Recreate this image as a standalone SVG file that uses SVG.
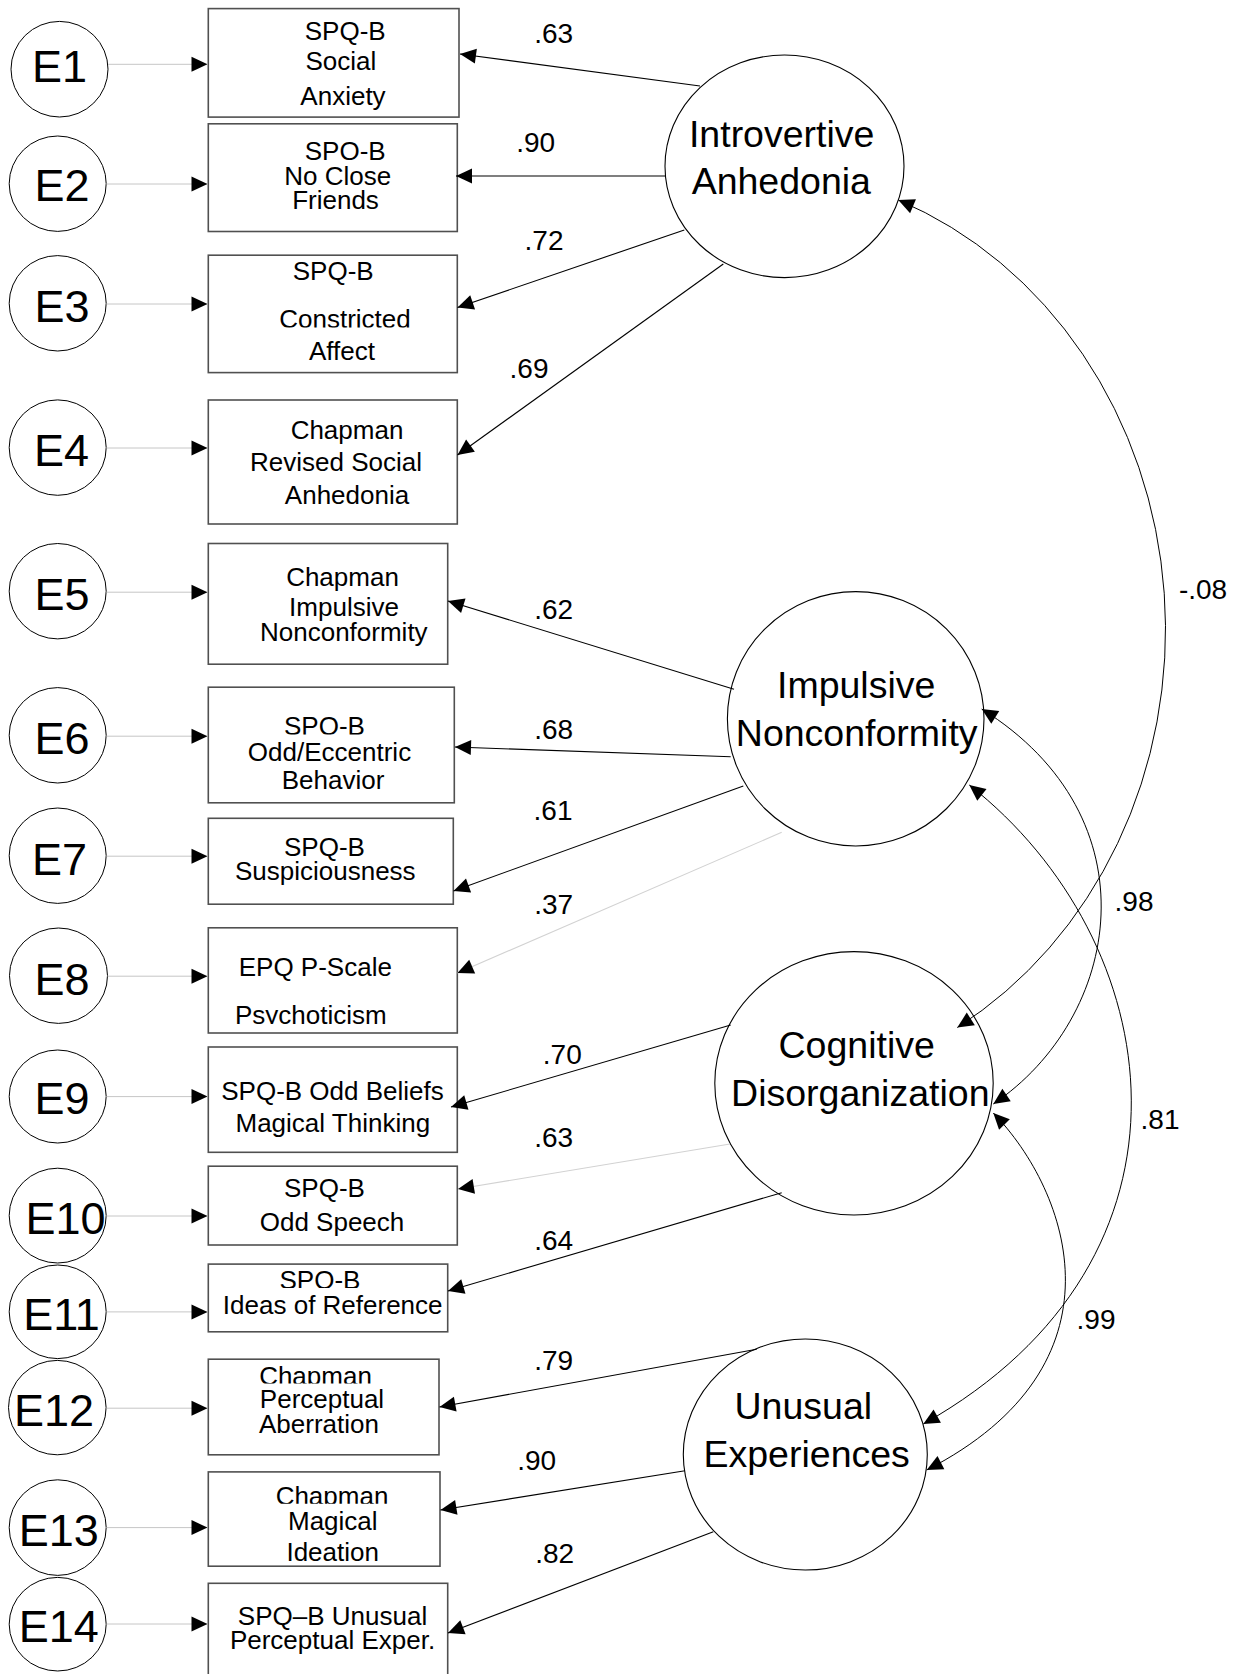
<svg xmlns="http://www.w3.org/2000/svg" width="1248" height="1674" viewBox="0 0 1248 1674">
  <defs>
    <style>
      text { font-family: "Liberation Sans", Arial, sans-serif; fill: #000; text-anchor: middle; }
      .err ellipse { fill: #fff; stroke: #000; stroke-width: 1; }
      .err text { font-size: 45px; }
      .box rect { fill: #fff; stroke: #505050; stroke-width: 1.6; }
      .box text { font-size: 26px; }
      .lat ellipse { fill: #fff; stroke: #000; stroke-width: 1.1; }
      .lat text { font-size: 37.5px; }
      .eline { stroke: #c6c6c6; stroke-width: 1; fill: none; marker-end: url(#ah); }
      .load { stroke: #000; stroke-width: 1.1; fill: none; marker-end: url(#ah); }
      .load.faint { stroke: #d2d2d2; }
      .cov { stroke: #000; stroke-width: 1; fill: none; marker-start: url(#ah); marker-end: url(#ah); }
      .lbl { font-size: 28px; }
    </style>
    <marker id="ah" markerUnits="userSpaceOnUse" markerWidth="17" markerHeight="16" refX="16" refY="7.5" orient="auto-start-reverse" overflow="visible">
      <path d="M0,0 L16,7.5 L0,15 z" fill="#000" stroke="none"/>
    </marker>
    <!-- line clips where a following text line overlaps the one above -->
    <clipPath id="cl-b2"><rect x="200" y="120" width="270" height="40"/></clipPath>
    <clipPath id="cl-b3"><rect x="200" y="290" width="270" height="37.5"/></clipPath>
    <clipPath id="cl-b6"><rect x="200" y="700" width="270" height="34.5"/></clipPath>
    <clipPath id="cl-b8"><rect x="200" y="990" width="270" height="34"/></clipPath>
    <clipPath id="cl-b11"><rect x="200" y="1262" width="270" height="26"/></clipPath>
    <clipPath id="cl-b12"><rect x="200" y="1355" width="270" height="28.5"/></clipPath>
    <clipPath id="cl-b13"><rect x="200" y="1470" width="270" height="33.7"/></clipPath>
  </defs>

  <rect width="1248" height="1674" fill="#fff"/>

  <!-- error terms -->
  <g id="e1" class="err"><ellipse cx="59.5" cy="69.2" rx="48.5" ry="47.8"/><text x="59.5" y="81.5">E1</text></g>
  <g id="e2" class="err"><ellipse cx="57.7" cy="183.7" rx="48.5" ry="47.7"/><text x="62" y="201">E2</text></g>
  <g id="e3" class="err"><ellipse cx="57.7" cy="303.3" rx="48.5" ry="47.7"/><text x="62" y="321.5">E3</text></g>
  <g id="e4" class="err"><ellipse cx="57.7" cy="447.6" rx="48.5" ry="47.7"/><text x="61.5" y="466">E4</text></g>
  <g id="e5" class="err"><ellipse cx="57.7" cy="591.2" rx="48.5" ry="47.7"/><text x="62" y="610">E5</text></g>
  <g id="e6" class="err"><ellipse cx="57.7" cy="735.3" rx="48.5" ry="47.7"/><text x="62" y="754">E6</text></g>
  <g id="e7" class="err"><ellipse cx="57.7" cy="855.7" rx="48.5" ry="47.7"/><text x="59.5" y="875">E7</text></g>
  <g id="e8" class="err"><ellipse cx="58.5" cy="975.7" rx="49" ry="47.7"/><text x="62" y="995">E8</text></g>
  <g id="e9" class="err"><ellipse cx="57.7" cy="1096.5" rx="48.5" ry="46.5"/><text x="62" y="1114">E9</text></g>
  <g id="e10" class="err"><ellipse cx="57.7" cy="1215.6" rx="48.5" ry="47.4"/><text x="65.5" y="1234">E10</text></g>
  <g id="e11" class="err"><ellipse cx="57.7" cy="1311.8" rx="48.5" ry="46.8"/><text x="61.5" y="1330">E11</text></g>
  <g id="e12" class="err"><ellipse cx="57.3" cy="1407.6" rx="48.8" ry="47.2"/><text x="54" y="1426">E12</text></g>
  <g id="e13" class="err"><ellipse cx="57.7" cy="1527.6" rx="48.5" ry="47.8"/><text x="58.8" y="1545.5">E13</text></g>
  <g id="e14" class="err"><ellipse cx="57.7" cy="1624.2" rx="48.5" ry="46.8"/><text x="58.8" y="1642">E14</text></g>

  <!-- observed measures -->
  <g id="spqb-social-anxiety" class="box">
    <rect x="208.3" y="8.6" width="250.7" height="108.5"/>
    <text x="345.2" y="39.6">SPQ-B</text>
    <text x="340.8" y="69.8">Social</text>
    <text x="343" y="104.9">Anxiety</text>
  </g>
  <g id="spqb-no-close-friends" class="box">
    <rect x="208.3" y="123.8" width="249" height="107.7"/>
    <text x="345.2" y="160" clip-path="url(#cl-b2)">SPQ-B</text>
    <text x="337.8" y="184.7">No Close</text>
    <text x="335.5" y="208.8">Friends</text>
  </g>
  <g id="spqb-constricted-affect" class="box">
    <rect x="208.3" y="255.2" width="249" height="117.4"/>
    <text x="333.2" y="280.4">SPQ-B</text>
    <text x="345" y="327.5" clip-path="url(#cl-b3)">Constricted</text>
    <text x="342" y="360.2">Affect</text>
  </g>
  <g id="chapman-social-anhedonia" class="box">
    <rect x="208.3" y="400" width="249" height="124"/>
    <text x="347" y="438.6">Chapman</text>
    <text x="336" y="470.6">Revised Social</text>
    <text x="347" y="504">Anhedonia</text>
  </g>
  <g id="chapman-impulsive-nonconformity" class="box">
    <rect x="208.3" y="543.5" width="239.4" height="120.7"/>
    <text x="342.5" y="585.8">Chapman</text>
    <text x="344" y="616.2">Impulsive</text>
    <text x="343.8" y="640.5">Nonconformity</text>
  </g>
  <g id="spqb-odd-eccentric" class="box">
    <rect x="208.3" y="687.2" width="246" height="115.6"/>
    <text x="324.5" y="735" clip-path="url(#cl-b6)">SPQ-B</text>
    <text x="329.5" y="760.9">Odd/Eccentric</text>
    <text x="333" y="788.6">Behavior</text>
  </g>
  <g id="spqb-suspiciousness" class="box">
    <rect x="208.3" y="818.3" width="245" height="85.9"/>
    <text x="324.5" y="856.2">SPQ-B</text>
    <text x="325.3" y="879.8">Suspiciousness</text>
  </g>
  <g id="epq-psychoticism" class="box">
    <rect x="208.3" y="927.8" width="249" height="105.2"/>
    <text x="315.3" y="976.2">EPQ P-Scale</text>
    <text x="310.8" y="1023.5" clip-path="url(#cl-b8)">Psychoticism</text>
  </g>
  <g id="spqb-odd-beliefs" class="box">
    <rect x="208.3" y="1047" width="249" height="105.3"/>
    <text x="332.5" y="1099.8">SPQ-B Odd Beliefs</text>
    <text x="332.8" y="1132.4">Magical Thinking</text>
  </g>
  <g id="spqb-odd-speech" class="box">
    <rect x="208.3" y="1166.2" width="249" height="78.8"/>
    <text x="324.5" y="1196.5">SPQ-B</text>
    <text x="332" y="1231">Odd Speech</text>
  </g>
  <g id="spqb-ideas-of-reference" class="box">
    <rect x="208.3" y="1264.1" width="239.4" height="67.7"/>
    <text x="320" y="1289" clip-path="url(#cl-b11)">SPQ-B</text>
    <text x="332.7" y="1313.5">Ideas of Reference</text>
  </g>
  <g id="chapman-perceptual-aberration" class="box">
    <rect x="208.3" y="1359.2" width="230.7" height="95.6"/>
    <text x="315.5" y="1385" clip-path="url(#cl-b12)">Chapman</text>
    <text x="322" y="1408.2">Perceptual</text>
    <text x="319" y="1432.9">Aberration</text>
  </g>
  <g id="chapman-magical-ideation" class="box">
    <rect x="208.3" y="1471.9" width="231.7" height="94.3"/>
    <text x="332" y="1505" clip-path="url(#cl-b13)">Chapman</text>
    <text x="332.8" y="1529.6">Magical</text>
    <text x="332.7" y="1560.6">Ideation</text>
  </g>
  <g id="spqb-unusual-perceptual" class="box">
    <rect x="208.3" y="1583.3" width="239.4" height="100"/>
    <text x="332.5" y="1625">SPQ–B Unusual</text>
    <text x="332.5" y="1649">Perceptual Exper.</text>
  </g>

  <!-- latent factors -->
  <g id="introvertive-anhedonia" class="lat">
    <ellipse cx="784.5" cy="166.3" rx="119.5" ry="111.3"/>
    <text x="781.7" y="147.3">Introvertive</text>
    <text x="781.3" y="194.3">Anhedonia</text>
  </g>
  <g id="impulsive-nonconformity" class="lat">
    <ellipse cx="855.7" cy="718.8" rx="128.3" ry="127.2"/>
    <text x="856.2" y="698.3">Impulsive</text>
    <text x="856.7" y="745.7">Nonconformity</text>
  </g>
  <g id="cognitive-disorganization" class="lat">
    <ellipse cx="854" cy="1083.3" rx="139.2" ry="131.7"/>
    <text x="856.7" y="1058.3">Cognitive</text>
    <text x="860.3" y="1106">Disorganization</text>
  </g>
  <g id="unusual-experiences" class="lat">
    <ellipse cx="805.3" cy="1454.5" rx="122" ry="115.5"/>
    <text x="803.3" y="1419.3">Unusual</text>
    <text x="806.7" y="1466.7">Experiences</text>
  </g>

  <!-- paths: error terms, loadings, factor covariances -->
  <g id="connectors">
    <line class="eline" x1="108" y1="64.3" x2="207.5" y2="64.3"/>
    <line class="eline" x1="106.5" y1="184" x2="207.5" y2="184"/>
    <line class="eline" x1="106.5" y1="304" x2="207.5" y2="304"/>
    <line class="eline" x1="106.5" y1="448" x2="207.5" y2="448"/>
    <line class="eline" x1="106.5" y1="592.2" x2="207.5" y2="592.2"/>
    <line class="eline" x1="106.5" y1="736.2" x2="207.5" y2="736.2"/>
    <line class="eline" x1="106.5" y1="856.2" x2="207.5" y2="856.2"/>
    <line class="eline" x1="107.5" y1="976.2" x2="207.5" y2="976.2"/>
    <line class="eline" x1="106.5" y1="1096.6" x2="207.5" y2="1096.6"/>
    <line class="eline" x1="106.5" y1="1216" x2="207.5" y2="1216"/>
    <line class="eline" x1="106.5" y1="1311.9" x2="207.5" y2="1311.9"/>
    <line class="eline" x1="106.5" y1="1408.2" x2="207.5" y2="1408.2"/>
    <line class="eline" x1="106.5" y1="1527.6" x2="207.5" y2="1527.6"/>
    <line class="eline" x1="106.5" y1="1624" x2="207.5" y2="1624"/>

    <line class="load" x1="700" y1="86" x2="460" y2="54"/>
    <line class="load" x1="665" y1="176" x2="456" y2="176"/>
    <line class="load" x1="684.3" y1="230" x2="457.5" y2="307.5"/>
    <line class="load" x1="723.3" y1="264" x2="457.5" y2="455"/>

    <line class="load" x1="734" y1="689.3" x2="448" y2="601"/>
    <line class="load" x1="730.7" y1="756.7" x2="455" y2="747"/>
    <line class="load" x1="743.3" y1="786" x2="453.5" y2="891"/>
    <line class="load faint" x1="781.7" y1="832.3" x2="457.5" y2="973"/>

    <line class="load" x1="730.7" y1="1025" x2="451" y2="1107"/>
    <line class="load faint" x1="730" y1="1144" x2="458" y2="1189"/>
    <line class="load" x1="781.7" y1="1192.7" x2="448" y2="1291"/>

    <line class="load" x1="756.7" y1="1349.3" x2="439.5" y2="1407"/>
    <line class="load" x1="685" y1="1470.7" x2="440.5" y2="1510"/>
    <line class="load" x1="713.3" y1="1531.7" x2="448" y2="1633"/>

    <path class="cov" d="M898.3,200 A417,460 0 0 1 957.3,1027.5"/>
    <path class="cov" d="M981.7,709 C1156.5,818 1121.2,1017.7 993.3,1104"/>
    <path class="cov" d="M969.3,785 C1166.8,940 1219.1,1257.4 923.3,1424"/>
    <path class="cov" d="M993.3,1113 C1070,1192 1131,1365 926.7,1470"/>
  </g>

  <!-- standardized coefficients -->
  <g id="coefficients" class="lbl">
    <text x="553.6" y="43">.63</text>
    <text x="535.7" y="152.4">.90</text>
    <text x="544" y="250">.72</text>
    <text x="529" y="378.4">.69</text>
    <text x="553.6" y="618.9">.62</text>
    <text x="553.6" y="738.7">.68</text>
    <text x="553" y="820.3">.61</text>
    <text x="553.6" y="914.1">.37</text>
    <text x="562.3" y="1063.5">.70</text>
    <text x="553.6" y="1146.5">.63</text>
    <text x="553.6" y="1250">.64</text>
    <text x="553.6" y="1370">.79</text>
    <text x="536.7" y="1469.7">.90</text>
    <text x="554.6" y="1563">.82</text>
    <text x="1203" y="599.3">-.08</text>
    <text x="1134" y="911">.98</text>
    <text x="1160" y="1129">.81</text>
    <text x="1096" y="1329">.99</text>
  </g>
</svg>
